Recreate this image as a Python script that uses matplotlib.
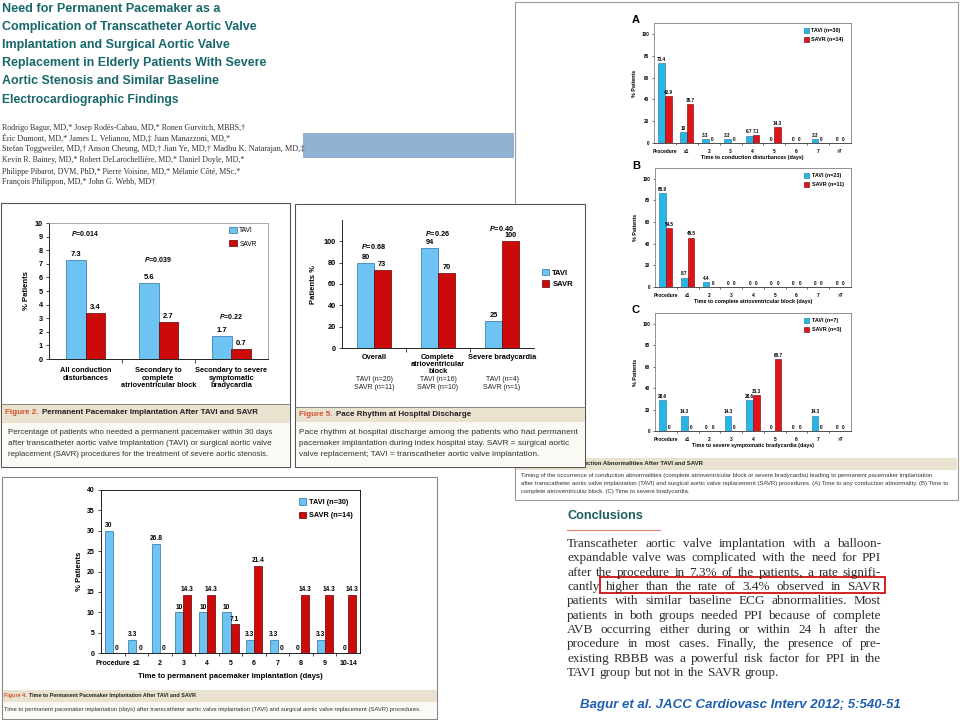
import matplotlib.pyplot as plt
from matplotlib.patches import Rectangle
import numpy as np

plt.rcParams['font.family'] = ['Liberation Sans', 'DejaVu Sans']
plt.rcParams['mathtext.fontset'] = 'custom'
plt.rcParams['mathtext.it'] = 'Liberation Sans:italic:bold'
plt.rcParams['mathtext.rm'] = 'Liberation Sans:bold'

W, H = 960, 720

# --- texts ---
title_lines = [
    'Need for Permanent Pacemaker as a',
    'Complication of Transcatheter Aortic Valve',
    'Implantation and Surgical Aortic Valve',
    'Replacement in Elderly Patients With Severe',
    'Aortic Stenosis and Similar Baseline',
    'Electrocardiographic Findings',
]
author_lines = [
    'Rodrigo Bagur, MD,* Josep Rodés-Cabau, MD,* Ronen Gurvitch, MBBS,†',
    'Éric Dumont, MD,* James L. Velianou, MD,‡ Juan Manazzoni, MD,*',
    'Stefan Toggweiler, MD,† Anson Cheung, MD,† Jian Ye, MD,† Madhu K. Natarajan, MD,‡',
    'Kevin R. Bainey, MD,* Robert DeLarochellière, MD,* Daniel Doyle, MD,*',
    'Philippe Pibarot, DVM, PhD,* Pierre Voisine, MD,* Mélanie Côté, MSc,*',
    'François Philippon, MD,* John G. Webb, MD†',
]
conclusion_lines = [
    'Transcatheter aortic valve implantation with a balloon-',
    'expandable valve was complicated with the need for PPI',
    'after the procedure in 7.3% of the patients, a rate signifi-',
    'cantly higher than the rate of 3.4% observed in SAVR',
    'patients with similar baseline ECG abnormalities. Most',
    'patients in both groups needed PPI because of complete',
    'AVB occurring either during or within 24 h after the',
    'procedure in most cases. Finally, the presence of pre-',
    'existing RBBB was a powerful risk factor for PPI in the',
    'TAVI group but not in the SAVR group.',
]
fig2_caption = [
    'Percentage of patients who needed a permanent pacemaker within 30 days',
    'after transcatheter aortic valve implantation (TAVI) or surgical aortic valve',
    'replacement (SAVR) procedures for the treatment of severe aortic stenosis.',
]
fig5_caption = [
    'Pace rhythm at hospital discharge among the patients who had permanent',
    'pacemaker implantation during index hospital stay. SAVR = surgical aortic',
    'valve replacement; TAVI = transcatheter aortic valve implantation.',
]
fig3_caption = [
    'Timing of the occurrence of conduction abnormalities (complete atrioventricular block or severe bradycardia) '
    'leading to permanent pacemaker implantation',
    'after transcatheter aortic valve implantation (TAVI) and surgical aortic valve replacement (SAVR) procedures. '
    '(A) Time to any conduction abnormality. (B) Time to',
    'complete atrioventricular block. (C) Time to severe bradycardia.',
]
fig4_caption = ('Time to permanent pacemaker implantation (days) after transcatheter aortic valve implantation '
                '(TAVI) and surgical aortic valve replacement (SAVR) procedures.')

# --- data ---
fig2_groups = ['All conduction\ndisturbances', 'Secondary to\ncomplete\natrioventricular block',
               'Secondary to severe\nsymptomatic\nbradycardia']
fig2_tavi = [7.3, 5.6, 1.7]
fig2_savr = [3.4, 2.7, 0.7]
fig2_p = ['0.014', '0.039', '0.22']

fig5_groups = ['Overall', 'Complete\natrioventricular\nblock', 'Severe bradycardia']
fig5_tavi = [80, 94, 25]
fig5_savr = [73, 70, 100]
fig5_p = ['0.68', '0.26', '0.40']
fig5_n = ['TAVI (n=20)\nSAVR (n=11)', 'TAVI (n=16)\nSAVR (n=10)', 'TAVI (n=4)\nSAVR (n=1)']

days3 = ['Procedure', '≤1', '2', '3', '4', '5', '6', '7', '>7']
a_tavi = [73.4, 10, 3.3, 3.3, 6.7, 0, 0, 3.3, 0]
a_savr = [42.9, 35.7, 0, 0, 7.1, 14.3, 0, 0, 0]
b_tavi = [86.9, 8.7, 4.4, 0, 0, 0, 0, 0, 0]
b_savr = [54.5, 45.5, 0, 0, 0, 0, 0, 0, 0]
c_tavi = [28.6, 14.3, 0, 14.3, 28.6, 0, 0, 14.3, 0]
c_savr = [0, 0, 0, 0, 33.3, 66.7, 0, 0, 0]

days4 = ['Procedure', '≤1', '2', '3', '4', '5', '6', '7', '8', '9', '10-14']
f4_tavi = [30, 3.3, 26.8, 10, 10, 10, 3.3, 3.3, 0, 3.3, 0]
f4_savr = [0, 0, 0, 14.3, 14.3, 7.1, 21.4, 0, 14.3, 14.3, 14.3]

TAVI_C = '#6DC3F2'
SAVR_C = '#CC0A0A'
TAVI3_C = '#27B6E8'
SAVR3_C = '#E0121A'
BEIGE = '#E9E2CF'
TEAL = '#17676B'

fig = plt.figure(figsize=(W / 100, H / 100), dpi=100)
bg = fig.add_axes([0, 0, 1, 1])
bg.set_xlim(0, W)
bg.set_ylim(H, 0)
bg.axis('off')
rnd = fig.canvas.get_renderer()


def px(x0, y0, x1, y1):
    return [x0 / W, 1 - y1 / H, (x1 - x0) / W, (y1 - y0) / H]


def rect(x0, y0, x1, y1, **kw):
    bg.add_patch(Rectangle((x0, y0), x1 - x0, y1 - y0, **kw))


def fit(x, y, s, width, size=8, **kw):
    # text scaled so that it spans `width` pixels
    t = bg.text(x, y, s, fontsize=size, va='center', **kw)
    w = t.get_window_extent(rnd).width
    t.set_fontsize(size * width / w)
    return t


def caption_head(x, y, num, rest, width, z=3):
    a = bg.text(x, y, num, color='#D4502F', fontsize=6, fontweight='bold', va='center', zorder=z)
    b = bg.text(x, y, rest, color='#222222', fontsize=6, fontweight='bold', va='center', zorder=z)
    wa = a.get_window_extent(rnd).width
    wb = b.get_window_extent(rnd).width
    gap = 2.5
    k = (width - gap) / (wa + wb)
    a.set_fontsize(6 * k)
    b.set_fontsize(6 * k)
    b.set_x(x + wa * k + gap)


def bold_ticks(ax):
    for lbl in ax.get_xticklabels() + ax.get_yticklabels():
        lbl.set_fontweight('bold')


# ---------------- title block ----------------
for line, y, w in zip(title_lines, [9, 27, 45, 63, 81, 100], [220, 256, 229, 266, 217, 176]):
    fit(2, y, line, w, color=TEAL, fontweight='bold')
for line, y, w in zip(author_lines, [128, 138.5, 149, 160, 171.5, 182.5], [243, 228, 300, 242, 241, 155]):
    fit(2, y, line, w, color='#333333', family=['Liberation Serif', 'DejaVu Serif'])
rect(303, 133, 514, 158, fc='#8FB2D3', ec='none')

# ---------------- figure 3 box (behind figure 5) ----------------
rect(515, 2, 958, 500, fc='white', ec='#9A9A9A', lw=0.8, zorder=1)
rect(516, 458, 957, 470, fc=BEIGE, ec='none', zorder=1)
t = fit(587, 463.5, 'ction Abnormalities After TAVI and SAVR', 116, color='#222222', fontweight='bold', zorder=2)
bg.text(587, 463.5, 'Figure 3. Timing of Condu', fontsize=t.get_fontsize(), color='#222222',
        fontweight='bold', va='center', ha='right', zorder=2)
for line, y, w in zip(fig3_caption, [476, 483.5, 492], [418, 430, 169]):
    fit(521, y, line, w, color='#333333', zorder=2)
for letter, y in zip('ABC', [20, 166, 310]):
    bg.text(632, y, letter, fontsize=8, fontweight='bold', va='center', zorder=2)

# ---------------- figure 2 box ----------------
rect(1, 203, 290, 467, fc='white', ec='#555555', lw=0.8, zorder=3)
rect(1.5, 404, 289.5, 423, fc=BEIGE, ec='none', zorder=3)
rect(1.5, 423, 289.5, 466.5, fc='#FBF9F3', ec='none', zorder=3)
bg.plot([1, 290], [404, 404], color='#777777', lw=0.6, zorder=3)
caption_head(5, 413, 'Figure 2.', 'Permanent Pacemaker Implantation After TAVI and SAVR', 258)
for line, y, w in zip(fig2_caption, [432, 443.5, 455], [265, 264, 262]):
    fit(8, y, line, w, color='#333333', zorder=4)

# ---------------- figure 5 box ----------------
rect(295, 204, 585, 467, fc='white', ec='#555555', lw=0.8, zorder=5)
rect(295.5, 407, 584.5, 422, fc=BEIGE, ec='none', zorder=5)
rect(295.5, 422, 584.5, 466.5, fc='#FBF9F3', ec='none', zorder=5)
bg.plot([295, 585], [407, 407], color='#777777', lw=0.6, zorder=5)
caption_head(299, 415, 'Figure 5.', 'Pace Rhythm at Hospital Discharge', 175, z=6)
for line, y, w in zip(fig5_caption, [432, 443.5, 455], [279, 273, 242]):
    fit(299, y, line, w, color='#333333', zorder=6)

# ---------------- figure 4 box ----------------
rect(2, 477, 437, 719, fc='white', ec='#888888', lw=0.8, zorder=3)
rect(2.5, 690, 436.5, 702, fc=BEIGE, ec='none', zorder=3)
rect(2.5, 702, 436.5, 718.5, fc='#FBF9F3', ec='none', zorder=3)
caption_head(4, 696, 'Figure 4.', 'Time to Permanent Pacemaker Implantation After TAVI and SAVR', 193)
fit(4, 709.5, fig4_caption, 421, color='#333333', zorder=4)

# ---------------- conclusions ----------------
fit(567, 516, 'Conclusions', 76, color='#1E5E5E', fontweight='bold')
bg.plot([567, 660], [529.5, 529.5], color='#E08070', lw=0.8)
serif = ['Liberation Serif', 'DejaVu Serif']
probe = [bg.text(0, 0, s, fontsize=10, family=serif) for s in conclusion_lines[:-1]]
size = 0.96 * 10 * min(314 / p.get_window_extent(rnd).width for p in probe)
for p in probe:
    p.remove()
ys = np.linspace(544, 673, len(conclusion_lines))
for i, (line, y) in enumerate(zip(conclusion_lines, ys)):
    words = line.split()
    ts = [bg.text(0, y, wd, fontsize=size, va='center', family=serif, color='#2E2E2E') for wd in words]
    ws = [tt.get_window_extent(rnd).width for tt in ts]
    if i < len(conclusion_lines) - 1:
        gap = (314 - sum(ws)) / (len(words) - 1)
    else:
        gap = size * 0.35
    xx = 567
    for tt, ww in zip(ts, ws):
        tt.set_x(xx)
        xx += ww + gap
rect(600, 577, 885, 593, fc='none', ec='#D01010', lw=1.3)
fit(580, 705, 'Bagur et al. JACC Cardiovasc Interv 2012; 5:540-51', 323,
    color='#1F5FAF', fontweight='bold', fontstyle='italic')

# ---------------- figure 2 chart ----------------
ax = fig.add_axes(px(49, 223, 268, 359))
x = np.arange(len(fig2_groups))
w = 0.27
b1 = ax.bar(x - w / 2, fig2_tavi, w, color=TAVI_C, edgecolor='#2E6E9E', lw=0.5, label='TAVI')
b2 = ax.bar(x + w / 2, fig2_savr, w, color=SAVR_C, edgecolor='#600000', lw=0.5, label='SAVR')
for b in (b1, b2):
    ax.bar_label(b, fmt='%g', padding=1.5, fontsize=5.5, fontweight='bold')
for i, (p, yy) in enumerate(zip(fig2_p, [9.25, 7.35, 3.1])):
    ax.text(i, yy, r'$\mathit{P}$=' + p, ha='center', va='center', fontsize=5, fontweight='bold')
ax.set_xlim(-0.5, 2.5)
ax.set_ylim(0, 10)
ax.set_yticks(range(11))
ax.set_xticks(x, fig2_groups, linespacing=1.1)
ax.set_xticks([0.5, 1.5], minor=True)
ax.tick_params(axis='x', which='major', length=0, pad=6, labelsize=5.3)
ax.tick_params(axis='x', which='minor', length=3, width=0.5)
ax.tick_params(axis='y', length=2.5, width=0.5, labelsize=5.3, pad=2)
bold_ticks(ax)
ax.set_ylabel('% Patients', fontsize=5.5, fontweight='bold', labelpad=3)
for s in ('top', 'right'):
    ax.spines[s].set_color('#9A9A9A')
for s in ax.spines.values():
    s.set_linewidth(0.6)
ax.legend(loc='upper left', bbox_to_anchor=(0.82, 0.97), frameon=False, fontsize=4.8,
          handlelength=1.2, handleheight=1.0, labelspacing=0.9, handletextpad=0.4,
          borderpad=0, borderaxespad=0)

# ---------------- figure 5 chart ----------------
ax = fig.add_axes(px(342, 220, 534, 348))
x = np.arange(len(fig5_groups))
w = 0.26
b1 = ax.bar(x - w / 2, fig5_tavi, w, color=TAVI_C, edgecolor='#2E6E9E', lw=0.5, label='TAVI')
b2 = ax.bar(x + w / 2, fig5_savr, w, color=SAVR_C, edgecolor='#600000', lw=0.5, label='SAVR')
for b in (b1, b2):
    ax.bar_label(b, fmt='%g', padding=1.5, fontsize=5.3, fontweight='bold')
for i, (p, yy) in enumerate(zip(fig5_p, [95, 107.5, 112])):
    ax.text(i, yy, r'$\mathit{P}$=' + p, ha='center', va='center', fontsize=5.3, fontweight='bold')
for i, n in enumerate(fig5_n):
    ax.text(i, -0.22, n, transform=ax.get_xaxis_transform(), ha='center', va='top',
            fontsize=5, linespacing=1.15, color='#222222')
ax.set_xlim(-0.5, 2.5)
ax.set_ylim(0, 120)
ax.set_yticks(range(0, 101, 20))
ax.set_xticks(x, fig5_groups, linespacing=1.05)
ax.set_xticks([0.5, 1.5], minor=True)
ax.tick_params(axis='x', which='major', length=0, pad=4, labelsize=5.3)
ax.tick_params(axis='x', which='minor', length=3, width=0.5)
ax.tick_params(axis='y', length=2.5, width=0.5, labelsize=5.3, pad=2)
bold_ticks(ax)
ax.set_ylabel('Patients %', fontsize=5.5, fontweight='bold', labelpad=5)
for s in ('top', 'right'):
    ax.spines[s].set_visible(False)
for s in ax.spines.values():
    s.set_linewidth(0.6)
ax.legend(loc='upper left', bbox_to_anchor=(1.04, 0.62), frameon=False,
          prop={'size': 5.5, 'weight': 'bold'}, handlelength=1.0, handleheight=1.0,
          labelspacing=0.4, handletextpad=0.4, borderpad=0, borderaxespad=0)


# ---------------- figure 3 panels ----------------
def timing_panel(box, tavi, savr, labels, xlabel):
    ax = fig.add_axes(px(*box))
    x = np.arange(len(days3))
    w = 0.3
    b1 = ax.bar(x - w / 2, tavi, w, color=TAVI3_C, edgecolor='#1B6F96', lw=0.4, label=labels[0])
    b2 = ax.bar(x + w / 2, savr, w, color=SAVR3_C, edgecolor='#6B0000', lw=0.4, label=labels[1])
    for b in (b1, b2):
        ax.bar_label(b, fmt='%g', padding=1, fontsize=3.3, fontweight='bold')
    ax.set_xlim(-0.5, len(days3) - 0.5)
    ax.set_ylim(0, 110)
    ax.set_yticks(range(0, 101, 20))
    ax.set_xticks(x, days3)
    ax.set_xticks(np.arange(len(days3) - 1) + 0.5, minor=True)
    ax.tick_params(axis='x', which='major', length=0, pad=4, labelsize=3.5)
    ax.tick_params(axis='x', which='minor', length=1.5, width=0.4)
    ax.tick_params(axis='y', length=1.5, width=0.4, labelsize=3.3, pad=2)
    bold_ticks(ax)
    ax.set_xlabel(xlabel, fontsize=3.9, fontweight='bold', labelpad=1)
    ax.set_ylabel('% Patients', fontsize=3.9, fontweight='bold', labelpad=3)
    for s in ax.spines.values():
        s.set_color('#808080')
        s.set_linewidth(0.6)
    ax.spines['bottom'].set_color('#333333')
    ax.legend(loc='upper left', bbox_to_anchor=(0.76, 0.96), frameon=False,
              prop={'size': 3.9, 'weight': 'bold'}, handlelength=1.0, handleheight=1.0,
              labelspacing=0.7, handletextpad=0.4, borderpad=0, borderaxespad=0)


timing_panel((654, 23, 851, 143), a_tavi, a_savr, ['TAVI (n=30)', 'SAVR (n=14)'],
             'Time to conduction disturbances (days)')
timing_panel((655, 168, 851, 287), b_tavi, b_savr, ['TAVI (n=23)', 'SAVR (n=11)'],
             'Time to complete atrioventricular block (days)')
timing_panel((655, 313, 851, 431), c_tavi, c_savr, ['TAVI (n=7)', 'SAVR (n=3)'],
             'Time to severe symptomatic bradycardia (days)')

# ---------------- figure 4 chart ----------------
ax = fig.add_axes(px(101, 490, 360, 653))
x = np.arange(len(days4))
w = 0.34
b1 = ax.bar(x - w / 2, f4_tavi, w, color=TAVI_C, edgecolor='#2E6E9E', lw=0.5, label='TAVI (n=30)')
b2 = ax.bar(x + w / 2, f4_savr, w, color=SAVR_C, edgecolor='#600000', lw=0.5, label='SAVR (n=14)')
for b in (b1, b2):
    ax.bar_label(b, fmt='%g', padding=1, fontsize=4.8, fontweight='bold')
ax.set_xlim(-0.5, len(days4) - 0.5)
ax.set_ylim(0, 40)
ax.set_yticks(range(0, 41, 5))
ax.set_xticks(x, days4)
ax.set_xticks(np.arange(len(days4) - 1) + 0.5, minor=True)
ax.tick_params(axis='x', which='major', length=0, pad=5, labelsize=5)
ax.tick_params(axis='x', which='minor', length=2.5, width=0.5)
ax.tick_params(axis='y', length=2.5, width=0.5, labelsize=5, pad=2)
bold_ticks(ax)
ax.set_xlabel('Time to permanent pacemaker implantation (days)', fontsize=5.6, fontweight='bold', labelpad=4)
ax.set_ylabel('% Patients', fontsize=5.6, fontweight='bold', labelpad=3)
for s in ax.spines.values():
    s.set_linewidth(0.6)
ax.legend(loc='upper left', bbox_to_anchor=(0.765, 0.95), frameon=False,
          prop={'size': 5.2, 'weight': 'bold'}, handlelength=1.0, handleheight=1.0,
          labelspacing=0.8, handletextpad=0.4, borderpad=0, borderaxespad=0)

fig.savefig('out.png', dpi=100)
